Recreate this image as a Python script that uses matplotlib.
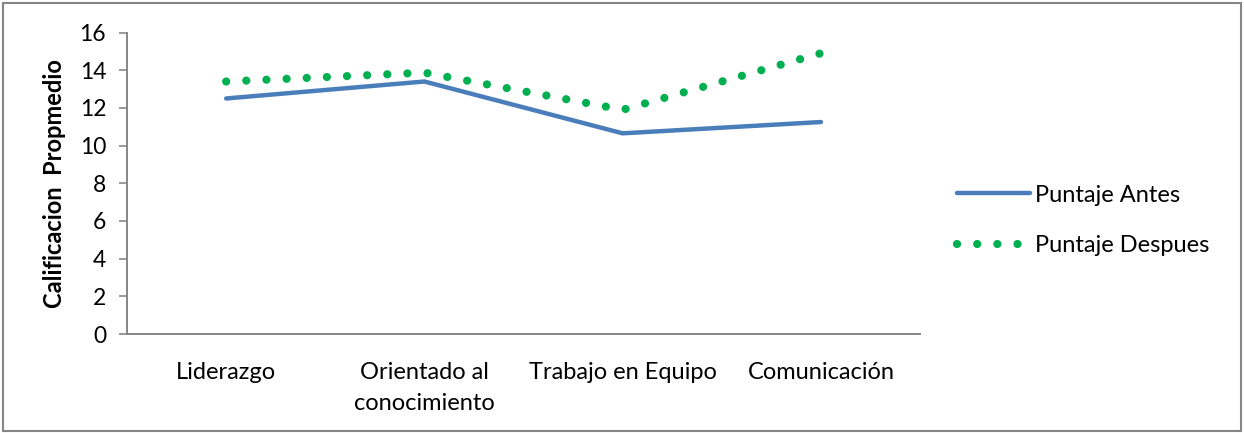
import matplotlib.pyplot as plt
from matplotlib.patches import Rectangle

categorias = ["Liderazgo", "Orientado al\nconocimiento", "Trabajo en Equipo", "Comunicación"]
puntaje_antes = [12.5, 13.4, 10.65, 11.25]
puntaje_despues = [13.4, 13.87, 11.9, 14.9]
yticks = [0, 2, 4, 6, 8, 10, 12, 14, 16]

plt.rcParams['font.family'] = ['Lato', 'DejaVu Sans']
gris = "#868686"

fig = plt.figure(figsize=(12.44, 4.33), dpi=100)
ax = fig.add_axes([0.1021, 0.2286, 0.6375, 0.6963])

x = range(len(categorias))
ax.plot(x, puntaje_antes, color="#4A7EBB", lw=3.2, solid_capstyle="round",
        solid_joinstyle="round", label="Puntaje Antes")
ax.plot(x, puntaje_despues, color="#00B050", lw=5.9, linestyle=(0, (0.01, 2.45)),
        dash_capstyle="round", label="Puntaje Despues")

ax.set_xlim(-0.5, 3.5)
ax.set_ylim(0, 16)
ax.set_yticks(yticks)
ax.set_xticks(list(x))
ax.set_xticklabels(categorias, fontsize=17, linespacing=1.6, va="top")
ax.tick_params(axis="y", labelsize=16.5, length=6, width=1.2, color=gris, pad=9)
ax.tick_params(axis="x", length=0, pad=20)

for s in ["top", "right"]:
    ax.spines[s].set_visible(False)
for s in ["left", "bottom"]:
    ax.spines[s].set_color(gris)
    ax.spines[s].set_linewidth(1.4)

ax.set_ylabel("Calificacion  Propmedio", fontsize=17, fontweight="bold", labelpad=10)

leg = ax.legend(loc="center left", bbox_to_anchor=(1.02, 0.377), frameon=False,
                fontsize=17, handlelength=3.1, handletextpad=0.2, labelspacing=1.25)

# marco exterior del grafico
fig.patches.append(Rectangle((0.0025, 0.004), 0.995, 0.99, transform=fig.transFigure,
                             fill=False, edgecolor=gris, lw=1.5))

fig.savefig("out.png", dpi=100)
